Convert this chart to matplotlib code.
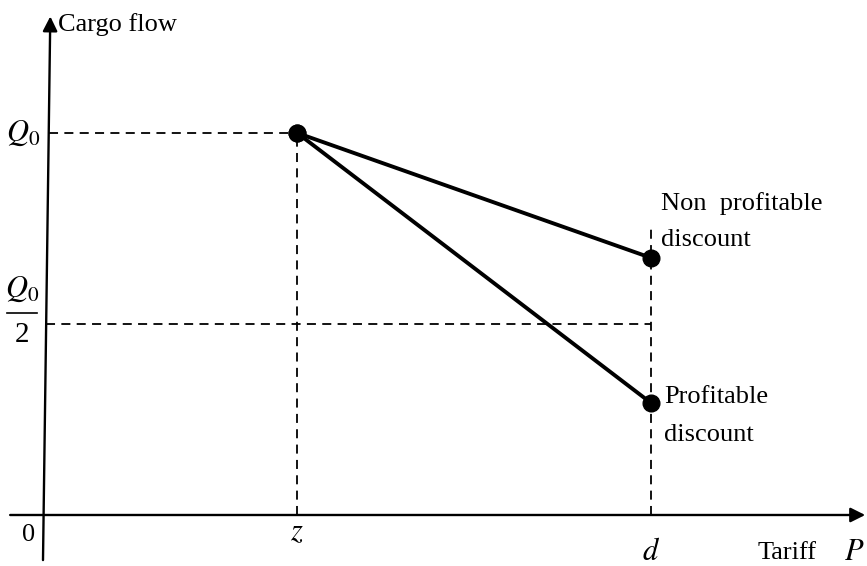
import matplotlib.pyplot as plt

plt.rcParams['font.family'] = 'Liberation Serif'
plt.rcParams['mathtext.fontset'] = 'stix'

# data units: tariff with d = 1, cargo flow with Q0 = 1
z = 0.418
d = 1.0
Q0 = 1.0
q_nonprofit = 0.673
q_profit = 0.293

x_axis = [-0.054, 1.352]
y_axis_bottom = (0.0, -0.118)
y_axis_top = (0.012, 1.305)

fig = plt.figure(figsize=(8.67, 5.66), dpi=100)
ax = fig.add_axes([0, 0, 1, 1])
ax.set_xlim(-0.0707, 1.355)
ax.set_ylim(-0.1335, 1.348)
ax.axis('off')

def yaxis_x(y):
    # the drawn y axis leans slightly to the right
    (x0, y0), (x1, y1) = y_axis_bottom, y_axis_top
    return x0 + (x1 - x0) * (y - y0) / (y1 - y0)

# axes with arrow heads
arrow = dict(arrowstyle='-|>', lw=1.7, color='black', mutation_scale=22,
             shrinkA=0, shrinkB=0)
ax.annotate('', xy=(x_axis[1], 0), xytext=(x_axis[0], 0), arrowprops=arrow)
ax.annotate('', xy=y_axis_top, xytext=y_axis_bottom, arrowprops=arrow)

# dashed guide lines
dash = dict(color='black', lw=1.3, ls=(0, (5, 3.5)))
ax.plot([yaxis_x(Q0), z], [Q0, Q0], **dash)
ax.plot([yaxis_x(Q0 / 2), d], [Q0 / 2, Q0 / 2], **dash)
ax.plot([z, z], [0, Q0], **dash)
ax.plot([d, d], [0, 0.754], **dash)

# demand responses
ax.plot([z, d], [Q0, q_nonprofit], color='black', lw=2.8, marker='o', ms=12)
ax.plot([z, d], [Q0, q_profit], color='black', lw=2.8, marker='o', ms=12)

fs = 19
mfs = 22
ax.text(0.024, 1.283, 'Cargo flow', fontsize=fs, va='center', ha='left')
ax.text(-0.005, Q0, r'$Q_0$', fontsize=mfs, va='center', ha='right')
# Q0 / 2 written as a stacked fraction
ax.text(-0.035, 0.59, r'$Q_0$', fontsize=mfs, va='center', ha='center')
ax.plot([-0.0595, -0.0105], [0.529, 0.529], color='black', lw=1.2)
ax.text(-0.035, 0.472, '2', fontsize=fs + 2, va='center', ha='center')

ax.text(-0.023, -0.052, '0', fontsize=fs, va='center', ha='center')
ax.text(z, -0.045, r'$z$', fontsize=mfs, va='center', ha='center')
ax.text(d, -0.098, r'$d$', fontsize=mfs, va='center', ha='center')
ax.text(1.224, -0.1, 'Tariff', fontsize=fs, va='center', ha='center')
ax.text(1.334, -0.098, r'$P$', fontsize=mfs, va='center', ha='center')

ax.text(1.017, 0.815, 'Non  profitable', fontsize=fs, va='center', ha='left')
ax.text(1.017, 0.72, 'discount', fontsize=fs, va='center', ha='left')
ax.text(1.022, 0.31, 'Profitable', fontsize=fs, va='center', ha='left')
ax.text(1.022, 0.21, 'discount', fontsize=fs, va='center', ha='left')

fig.savefig('out.png', dpi=100)
